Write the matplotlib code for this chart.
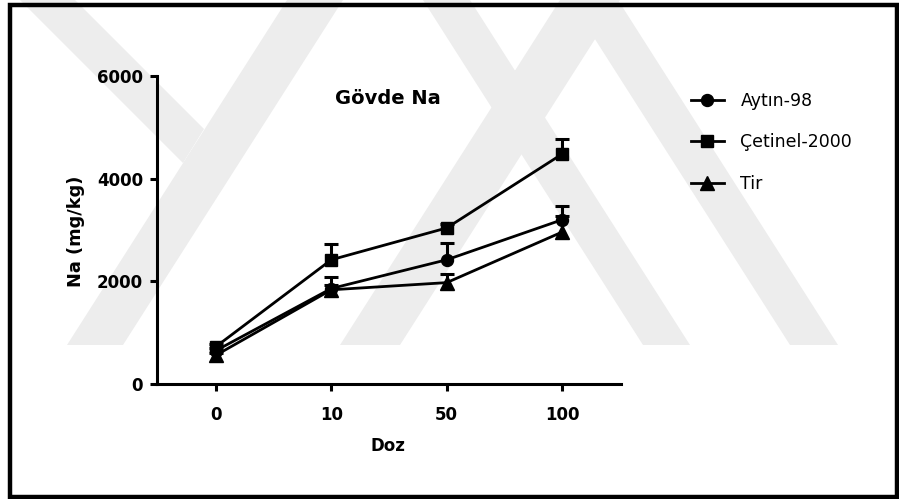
import matplotlib
matplotlib.use("Agg")
import matplotlib.pyplot as plt
from matplotlib.patches import Rectangle, Polygon

doses = ["0", "10", "50", "100"]
series_names = ["Aytın-98", "Çetinel-2000", "Tir"]
aytin = [650, 1860, 2420, 3200]
aytin_err = [50, 230, 320, 275]
cetinel = [727, 2420, 3040, 4480]
cetinel_err = [60, 300, 80, 290]
tir = [560, 1835, 1975, 2960]
tir_err = [40, 100, 170, 320]
y_ticks = [0, 2000, 4000, 6000]

W, H = 899, 499
fig = plt.figure(figsize=(W / 100, H / 100), dpi=100)
fig.patch.set_facecolor("white")

# faint background watermark bands (pixel outlines, top-left origin)
wm_shapes = [
    [(67, 345), (123, 345), (343, 0), (287, 0)],
    [(340, 345), (400, 345), (620, 0), (560, 0)],
    [(643, 345), (690, 345), (470, 0), (423, 0)],
    [(790, 345), (838, 345), (618, 0), (570, 0)],
    [(20, 0), (75, 0), (204, 129), (183, 163)],
]
for shp in wm_shapes:
    fig.add_artist(Polygon([(px / W, 1 - py / H) for px, py in shp], closed=True,
                           transform=fig.transFigure, facecolor="#ededed",
                           edgecolor="none", zorder=0))

# outer black frame
fig.add_artist(Rectangle((10 / W, 1 - 497 / H), 887 / W, 492 / H, transform=fig.transFigure,
                         fill=False, edgecolor="black", linewidth=3.2, zorder=5))

ax = fig.add_axes([157 / W, 1 - 384 / H, (621 - 157) / W, (384 - 76) / H])
ax.set_facecolor("none")
ax.set_zorder(2)

bold = dict(family="DejaVu Sans", fontweight="bold")
x = list(range(len(doses)))
data = [(aytin, aytin_err, "o", 8.6), (cetinel, cetinel_err, "s", 9.0), (tir, tir_err, "^", 9.4)]
handles = []
for (vals, errs, mk, ms), name in zip(data, series_names):
    line, caps, bars = ax.errorbar(x, vals, yerr=[[0] * len(errs), errs], color="black", lw=2.0,
                                   marker=mk, markersize=ms, capsize=5, capthick=2.2,
                                   elinewidth=2.2, label=name, zorder=3)
    caps[0].set_visible(False)
    handles.append(line)

ax.set_xlim(-0.51, 3.51)
ax.set_ylim(0, 6000)
ax.set_xticks(x)
ax.set_xticklabels(doses, fontsize=12, **bold)
ax.set_yticks(y_ticks)
ax.set_yticklabels([str(v) for v in y_ticks], fontsize=12, **bold)
for s in ["top", "right"]:
    ax.spines[s].set_visible(False)
for s in ["left", "bottom"]:
    ax.spines[s].set_linewidth(2.2)
ax.tick_params(axis="both", width=2.2, length=5, color="black")
ax.tick_params(axis="y", pad=5)
ax.tick_params(axis="x", pad=11)

fig.text(388 / W, 1 - 99 / H, "Gövde Na", ha="center", va="center", fontsize=14, **bold)
fig.text(388 / W, 1 - 446 / H, "Doz", ha="center", va="center", fontsize=12, **bold)
fig.text(76 / W, 1 - 231 / H, "Na (mg/kg)", ha="center", va="center", rotation=90, fontsize=12.8, **bold)

leg = fig.legend(handles, series_names, loc="upper left", bbox_to_anchor=(691 / W, 1 - 92 / H),
                 frameon=False, prop=dict(family="DejaVu Sans", size=12.5), handlelength=1.9,
                 handletextpad=0.95, labelspacing=1.35, borderpad=0, borderaxespad=0)

fig.savefig("out.png", dpi=100, facecolor="white")
